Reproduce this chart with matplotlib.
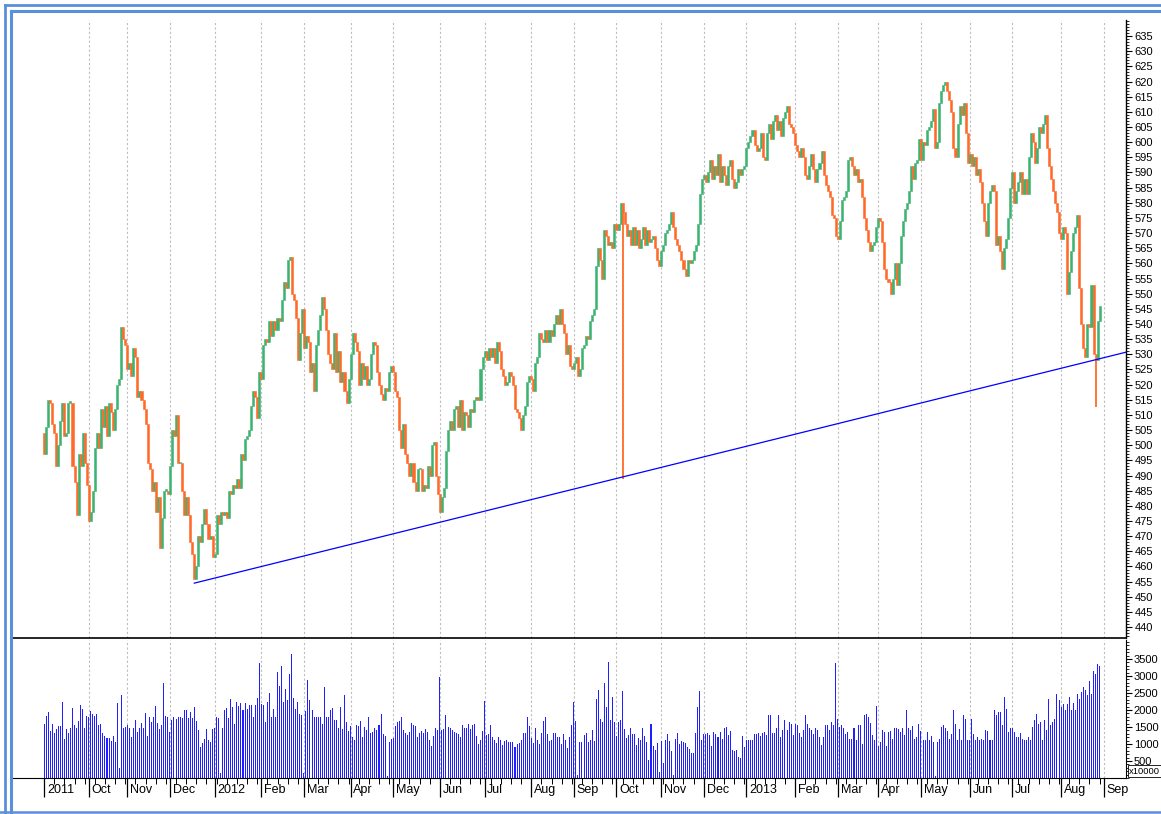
import numpy as np
import matplotlib
matplotlib.use("Agg")
import matplotlib.pyplot as plt
from matplotlib.lines import Line2D
from matplotlib.ticker import FixedLocator, MultipleLocator, NullFormatter

# daily closes, one per trading day (Sep 2011 .. Aug 2013)
closes = [
    497, 506, 515, 514, 507, 504, 493, 500, 508, 514,
    503, 504, 514, 514, 493, 488, 477, 497, 493, 504,
    494, 487, 475, 478, 485, 499, 504, 499, 512, 506,
    513, 503, 514, 511, 505, 512, 520, 522, 539, 535,
    533, 525, 527, 523, 532, 529, 516, 518, 515, 512,
    507, 494, 492, 485, 488, 478, 483, 466, 476, 485,
    485, 484, 493, 505, 503, 510, 494, 494, 485, 477,
    483, 477, 468, 464, 456, 460, 470, 468, 474, 479,
    474, 469, 470, 463, 464, 477, 474, 478, 477, 478,
    476, 485, 484, 487, 486, 489, 486, 497, 495, 502,
    503, 505, 513, 518, 516, 509, 524, 522, 533, 535,
    534, 541, 536, 541, 538, 542, 541, 548, 554, 552,
    561, 562, 550, 548, 542, 528, 537, 545, 532, 536,
    534, 524, 527, 518, 533, 538, 543, 549, 545, 538,
    530, 527, 525, 537, 524, 531, 521, 524, 518, 514,
    522, 530, 537, 534, 531, 520, 527, 522, 526, 520,
    522, 530, 534, 533, 524, 520, 517, 515, 519, 518,
    524, 526, 524, 518, 516, 505, 499, 507, 497, 494,
    490, 494, 488, 485, 492, 492, 485, 487, 486, 493,
    490, 500, 501, 490, 484, 478, 483, 486, 498, 505,
    508, 505, 512, 513, 506, 515, 505, 511, 510, 506,
    512, 511, 515, 516, 515, 525, 529, 531, 528, 532,
    529, 532, 527, 534, 531, 525, 523, 520, 521, 524,
    523, 520, 512, 511, 509, 505, 510, 513, 521, 523,
    522, 518, 527, 529, 537, 535, 534, 538, 534, 538,
    536, 540, 543, 540, 545, 540, 537, 530, 533, 526,
    525, 527, 529, 523, 525, 532, 533, 536, 535, 541,
    543, 545, 559, 565, 561, 555, 571, 569, 566, 567,
    565, 573, 571, 573, 580, 577, 573, 569, 571, 566,
    572, 566, 571, 565, 568, 572, 566, 571, 567, 568,
    569, 565, 561, 559, 564, 566, 570, 571, 573, 577,
    572, 568, 566, 564, 561, 558, 556, 561, 560, 561,
    564, 566, 573, 583, 588, 589, 587, 590, 594, 588,
    592, 589, 596, 587, 592, 589, 586, 592, 594, 588,
    585, 587, 591, 589, 591, 592, 598, 600, 602, 604,
    599, 597, 598, 603, 595, 594, 603, 606, 601, 607,
    609, 604, 607, 602, 608, 610, 612, 606, 605, 603,
    599, 597, 595, 598, 595, 589, 588, 592, 596, 591,
    587, 591, 593, 597, 589, 586, 584, 582, 576, 575,
    569, 568, 574, 581, 582, 584, 594, 595, 592, 589,
    591, 587, 588, 582, 575, 571, 567, 564, 566, 567,
    572, 575, 574, 567, 558, 555, 554, 550, 555, 560,
    553, 560, 569, 574, 578, 580, 584, 592, 588, 593,
    594, 601, 594, 600, 599, 604, 605, 607, 611, 598,
    600, 613, 617, 619, 620, 617, 614, 610, 598, 595,
    606, 612, 609, 613, 603, 593, 596, 592, 595, 589,
    591, 587, 580, 574, 569, 580, 584, 586, 584, 566,
    569, 564, 558, 565, 568, 575, 585, 590, 580, 584,
    587, 590, 583, 588, 583, 595, 603, 600, 593, 598,
    605, 603, 606, 609, 598, 592, 588, 584, 580, 577,
    570, 568, 572, 570, 550, 557, 564, 570, 572, 576,
    552, 540, 532, 529, 540, 539, 553, 530, 528, 541,
    546,
]
first_open = 504

# volume, in units of 10000 shares
volumes = [
    1600, 1810, 1940, 1390, 1580, 1330, 1430, 1520, 1520, 2230,
    1140, 1450, 1310, 1460, 2050, 1550, 1480, 1670, 2150, 2020,
    1460, 1830, 1780, 1960, 1870, 1810, 1870, 1570, 1580, 1310,
    1250, 1180, 1180, 1090, 1250, 1070, 2210, 280, 2450, 1480,
    1500, 1550, 1460, 1210, 1460, 1700, 1340, 1480, 1620, 1480,
    1910, 1250, 1780, 1650, 1780, 2130, 1620, 1450, 1550, 2800,
    1810, 1780, 1360, 1700, 1780, 1730, 1780, 1780, 1770, 1990,
    2010, 1770, 1940, 1760, 2090, 1690, 1410, 900, 1040, 1160,
    1450, 1120, 1070, 1440, 1460, 1780, 1760, 160, 1460, 2010,
    2070, 1760, 2330, 2100, 1600, 2230, 2110, 2200, 2010, 2200,
    2040, 2150, 2150, 1790, 2140, 2350, 3390, 2180, 2150, 1650,
    2230, 2500, 1780, 2020, 1790, 3120, 2720, 3300, 2230, 2620,
    2300, 3070, 3640, 2350, 2040, 2250, 1870, 1840, 160, 1970,
    2890, 2280, 2010, 1790, 1780, 1790, 1790, 1580, 2670, 1780,
    1790, 1990, 2050, 1720, 1700, 1460, 2090, 1430, 2430, 1640,
    1380, 1520, 1210, 1120, 1550, 1530, 1670, 1220, 1500, 1410,
    1780, 1330, 1360, 1460, 1410, 1550, 1870, 1290, 1230, 50,
    1070, 1160, 1180, 1520, 1650, 1680, 1790, 1410, 1310, 1260,
    1360, 1620, 1550, 1520, 1210, 1310, 1390, 1310, 1430, 1360,
    1120, 950, 1230, 1460, 1410, 2980, 1410, 1430, 1840, 1500,
    1480, 1410, 1360, 1330, 1280, 1210, 1550, 1480, 1480, 1600,
    1430, 1570, 1600, 1230, 1000, 1120, 1390, 2260, 1260, 1290,
    1550, 1210, 1120, 1020, 1210, 1130, 970, 1100, 1120, 1070,
    1070, 1070, 900, 1000, 1020, 1130, 1310, 1310, 1790, 1520,
    1180, 1020, 1460, 1130, 1010, 1330, 1670, 1790, 1280, 1090,
    1120, 1330, 1330, 1210, 1210, 1000, 1280, 1130, 870, 1210,
    1550, 2250, 1670, 100, 1070, 1070, 1260, 1330, 1070, 1120,
    1410, 1090, 2330, 2590, 1750, 1650, 2780, 2100, 3410, 1700,
    2380, 1650, 1230, 1650, 1720, 2570, 1430, 1180, 1260, 1470,
    1300, 1290, 970, 1190, 1120, 1460, 1230, 1050, 530, 1580,
    940, 820, 1040, 180, 1100, 440, 1130, 1290, 1100, 800,
    100, 1150, 1330, 1000, 1100, 1070, 1020, 920, 840, 750,
    730, 1330, 2090, 2570, 1130, 1280, 1280, 1310, 1260, 940,
    1360, 1290, 1200, 1350, 1160, 1460, 1500, 1260, 1390, 820,
    780, 820, 630, 580, 1230, 920, 1130, 1120, 1120, 1120,
    1280, 1280, 1330, 1250, 1310, 1360, 1260, 1840, 1840, 1310,
    1310, 1460, 1840, 1210, 1410, 1720, 1410, 1650, 1600, 1260,
    1600, 1570, 1310, 1210, 1400, 1840, 1600, 1480, 1410, 1280,
    1480, 1410, 1210, 970, 1210, 1550, 1550, 1410, 1650, 1550,
    3370, 1750, 1500, 1550, 1460, 1300, 1360, 1140, 1140, 1460,
    1120, 1550, 1550, 1000, 1840, 1870, 1780, 1630, 1260, 1120,
    2130, 940, 1070, 1410, 1360, 940, 1350, 1390, 1160, 1460,
    1480, 1430, 1360, 1480, 1260, 1990, 1480, 1410, 1520, 1160,
    1210, 1600, 1390, 1120, 1120, 1360, 1130, 1250, 1070, 70,
    1070, 1160, 1500, 1550, 1460, 1390, 1160, 1290, 1990, 1600,
    1120, 1430, 1120, 1840, 1750, 1120, 1120, 1750, 1300, 1120,
    1210, 1120, 1160, 1120, 1410, 1390, 1120, 1120, 1990, 1840,
    1940, 1940, 1550, 2380, 2040, 1360, 1460, 1480, 1360, 1200,
    1210, 1310, 1160, 1120, 1120, 1210, 1120, 1500, 1700, 1890,
    1600, 1650, 1120, 1700, 1410, 2330, 1550, 1650, 1750, 2470,
    2280, 2100, 2180, 1990, 2180, 2380, 1990, 2200, 1990, 2470,
    2330, 2520, 2670, 2600, 2430, 2860, 2470, 3150, 3050, 3350,
    3300,
]

# two bad prints with long lower shadows
spike_days = [285, 518]
spike_lows = [489, 512.5]

# support line drawn from the Dec 2011 low
trend_days = [74, 533]
trend_prices = [454.5, 530.7]

# first trading day of each month
month_days = [0, 22, 41, 62, 84, 107, 128, 151, 172, 195, 217, 240, 261,
              282, 304, 325, 346, 370, 391, 411, 432, 456, 477, 501, 522]
month_labels = ["2011", "Oct", "Nov", "Dec", "2012", "Feb", "Mar", "Apr",
                "May", "Jun", "Jul", "Aug", "Sep", "Oct", "Nov", "Dec",
                "2013", "Feb", "Mar", "Apr", "May", "Jun", "Jul", "Aug", "Sep"]

UP = "#3cb371"
DOWN = "#ff6a28"
VOL = "#2020ff"
FRAME = "#5b8fd9"
W, H = 1161, 814


def main():
    plt.rcParams["font.family"] = ["Liberation Sans", "DejaVu Sans"]

    c = np.array(closes, dtype=float)
    o = np.array([first_open] + closes[:-1], dtype=float)
    days = np.arange(len(c))
    colors = np.where(c >= o, UP, DOWN)

    fig = plt.figure(figsize=(W / 100, H / 100), dpi=100)
    fig.patch.set_facecolor("white")
    ax = fig.add_axes([12 / W, 1 - 638 / H, 1114 / W, 618 / H])
    axv = fig.add_axes([12 / W, 1 - 778 / H, 1114 / W, 138 / H], sharex=ax)

    # month grid
    for a in (ax, axv):
        for d in month_days[1:]:
            a.axvline(d, color="#bdbdbd", lw=0.8, ls=(0, (2, 2)), zorder=0)

    # candles
    ax.bar(days, np.maximum(np.abs(c - o), 0.5), bottom=np.minimum(o, c),
           width=1.0, color=colors, edgecolor=colors, linewidth=0.4, zorder=2)
    ax.vlines(spike_days, spike_lows, [min(o[d], c[d]) for d in spike_days],
              color=DOWN, lw=1.3, zorder=2)
    ax.plot(trend_days, trend_prices, color="#0000ff", lw=0.9, zorder=3)

    ax.set_xlim(-15.8, 533)
    ax.set_ylim(436.4, 640.3)
    ax.yaxis.tick_right()
    ax.yaxis.set_major_locator(FixedLocator(list(range(440, 640, 5))))
    ax.yaxis.set_minor_locator(MultipleLocator(1))
    ax.tick_params(axis="y", which="major", direction="out", length=4.5,
                   width=0.8, labelsize=8, pad=1.5)
    ax.tick_params(axis="y", which="minor", direction="out", length=2, width=0.6)
    ax.tick_params(axis="x", which="both", bottom=False, labelbottom=False)
    for s in ("top", "left"):
        ax.spines[s].set_visible(False)
    ax.spines["right"].set_linewidth(1.0)
    ax.spines["bottom"].set_linewidth(1.2)

    # volume
    axv.bar(days, volumes, width=0.5, color=VOL, linewidth=0)
    axv.set_ylim(0, 4059)
    axv.yaxis.tick_right()
    axv.yaxis.set_major_locator(FixedLocator(list(range(500, 4000, 500))))
    axv.yaxis.set_minor_locator(MultipleLocator(100))
    axv.tick_params(axis="y", which="major", direction="out", length=4.5,
                    width=0.8, labelsize=8, pad=1.0)
    axv.tick_params(axis="y", which="minor", direction="out", length=2, width=0.6)
    axv.xaxis.set_major_locator(FixedLocator(month_days))
    axv.xaxis.set_minor_locator(FixedLocator(
        [d for d in range(0, month_days[-1], 5) if d not in month_days]))
    axv.xaxis.set_major_formatter(NullFormatter())
    axv.tick_params(axis="x", which="major", direction="out", length=14, width=0.9)
    axv.tick_params(axis="x", which="minor", direction="out", length=4, width=0.7)
    for s in ("top", "left"):
        axv.spines[s].set_visible(False)
    for d, lab in zip(month_days, month_labels):
        axv.annotate(lab, xy=(d, 0), xycoords=("data", "axes fraction"),
                     xytext=(2, -4), textcoords="offset points",
                     ha="left", va="top", fontsize=9)

    fig.text(1129 / W, 1 - 771 / H, "x10000", fontsize=6.8, va="center",
             ha="left", bbox=dict(facecolor="white", edgecolor="black",
                                  lw=0.6, pad=1.0))

    # window frame
    def fline(x, y, lw):
        fig.add_artist(Line2D([v / W for v in x], [1 - v / H for v in y],
                              color=FRAME, lw=lw, transform=fig.transFigure))
    fline([5, W], [5, 5], 2.0)
    fline([5, 5], [5, H], 2.0)
    fline([11, W], [11, 11], 2.2)
    fline([11, 11], [11, H], 2.2)
    fline([0, W], [812, 812], 1.8)

    fig.savefig("out.png", dpi=100)


if __name__ == "__main__":
    main()
